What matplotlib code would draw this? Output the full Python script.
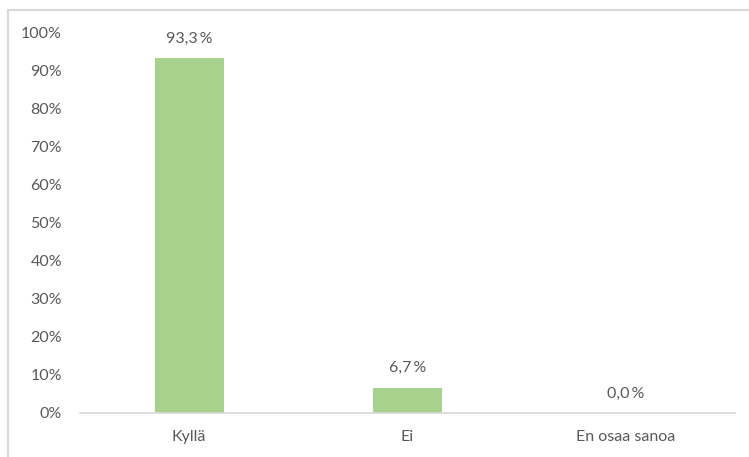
import matplotlib.pyplot as plt
from matplotlib.patches import Rectangle

categories = ['Kyllä', 'Ei', 'En osaa sanoa']
shares = [93.3, 6.7, 0.0]
y_ticks = [0, 10, 20, 30, 40, 50, 60, 70, 80, 90, 100]

plt.rcParams['font.family'] = ['Lato', 'DejaVu Sans']
text_color = '#595959'

fig = plt.figure(figsize=(7.49, 4.57), dpi=100)
ax = fig.add_axes([80 / 749, 44 / 457, 655 / 749, 380 / 457])

# outer chart border (right and bottom are cut off in the original)
fig.patches.append(Rectangle((7.5 / 749, -0.1), 1.2, (457 - 9.5) / 457 + 0.1,
                             transform=fig.transFigure, fill=False,
                             edgecolor='#D9D9D9', linewidth=1.5))

x = range(len(categories))
bars = ax.bar(x, shares, width=0.316, color='#A9D18E')

for b, v in zip(bars, shares):
    label = f'{v:.1f}'.replace('.', ',') + '\u2009%'
    ax.annotate(label, (b.get_x() + b.get_width() / 2, v),
                xytext=(0, 9), textcoords='offset points',
                ha='center', va='bottom', fontsize=11.5, color=text_color,
                family=['Lato', 'DejaVu Sans'])

ax.set_xlim(-0.5, len(categories) - 0.5)
ax.set_ylim(0, 100)
ax.set_yticks(y_ticks)
ax.set_yticklabels([f'{t}%' for t in y_ticks])
ax.set_xticks(list(x))
ax.set_xticklabels(categories)

ax.tick_params(axis='both', length=0, labelsize=11.5, colors=text_color)
ax.tick_params(axis='x', pad=12)
ax.tick_params(axis='y', pad=13)

for s in ['top', 'right', 'left']:
    ax.spines[s].set_visible(False)
ax.spines['bottom'].set_color('#D9D9D9')
ax.spines['bottom'].set_linewidth(1.2)

fig.savefig('out.png', dpi=100)
